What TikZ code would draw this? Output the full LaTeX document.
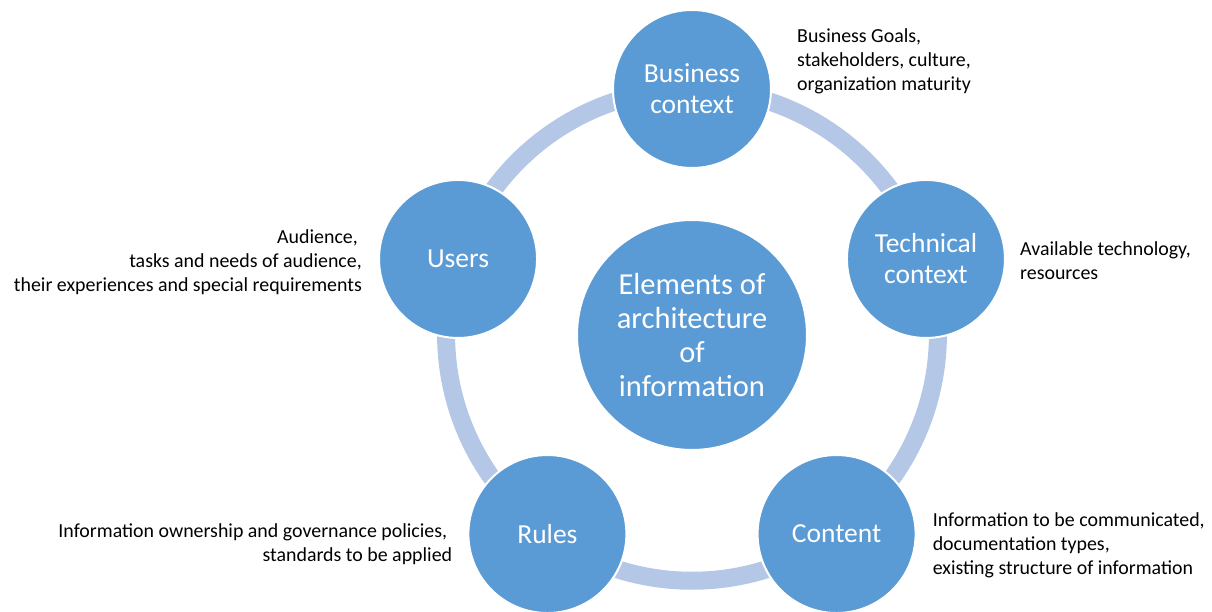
\documentclass[tikz,border=0pt]{standalone}
\usepackage{fontspec}
\setmainfont{Carlito}
\usetikzlibrary{positioning, backgrounds}
\definecolor{itemblue}{HTML}{5B9BD5}
\definecolor{ringblue}{HTML}{B4C7E7}

\begin{document}
\begin{tikzpicture}[
  part/.style={circle, draw=white, line width=2pt, fill=itemblue, text=white, minimum size=158pt, inner sep=0pt, align=center, font=\fontsize{27.5}{31}\selectfont},
  core/.style={part, minimum size=230pt, font=\fontsize{30.5}{34}\selectfont},
  note/.style={inner sep=0pt, font=\fontsize{19.9}{24}\selectfont},
  ring/.style={line width=18pt, draw=ringblue, bend left=36, looseness=0.94}
]
\useasboundingbox (-692pt,-277pt) rectangle (520pt,335pt);

\node[core] (elements) at (0,0) {Elements of\\architecture\\of\\information};
\node[part] (business) at (90:246pt) {Business\\context};
\node[part] (technical) at (18:246pt) {Technical\\context};
\node[part] (content) at (-54:246pt) {Content};
\node[part] (rules) at (-126:246pt) {Rules};
\node[part] (users) at (162:246pt) {Users};

\node[note, align=left, right=25pt of business, yshift=28pt] (businessnote) {Business Goals,\\stakeholders, culture,\\organization maturity};
\node[note, align=left, right=14pt of technical, yshift=-2pt] (technicalnote) {Available technology,\\resources};
\node[note, align=left, right=16pt of content, yshift=-11pt] (contentnote) {Information to be communicated,\\documentation types,\\existing structure of information};
\node[note, align=right, left=15pt of rules, yshift=-10pt] (rulesnote) {Information ownership and governance policies,\hspace*{5pt}\\standards to be applied};
\node[note, align=right, left=16pt of users, yshift=-3pt] (usersnote) {Audience,\hspace*{4pt}\\tasks and needs of audience,\hspace*{4pt}\\their experiences and special requirements};

\begin{scope}[on background layer]
\draw[ring] (business.center) to (technical.center);
\draw[ring] (technical.center) to (content.center);
\draw[ring] (content.center) to (rules.center);
\draw[ring] (rules.center) to (users.center);
\draw[ring] (users.center) to (business.center);
\end{scope}

\end{tikzpicture}
\end{document}
